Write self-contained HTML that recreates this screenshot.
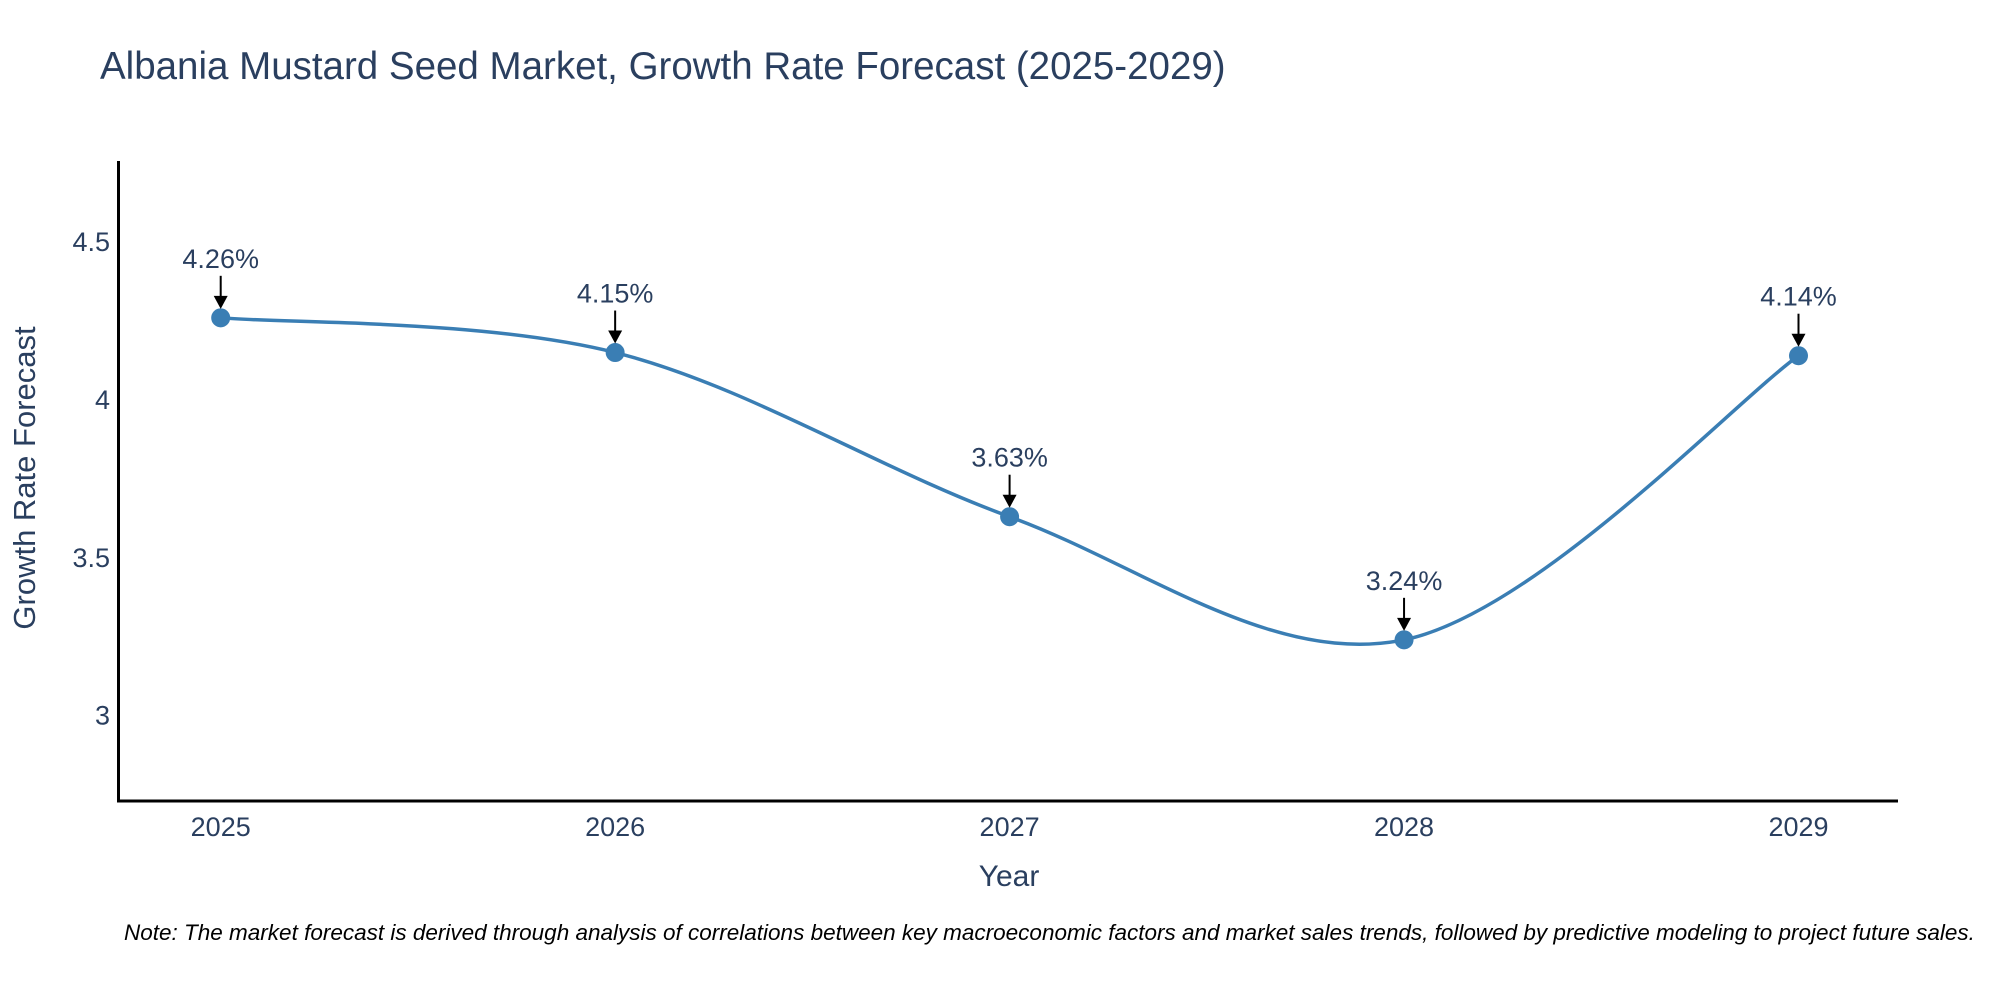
<!DOCTYPE html>
<html><head><meta charset="utf-8"><style>
body{margin:0;background:#fff;}
svg{display:block;font-family:"Liberation Sans",sans-serif;}
</style></head><body>
<svg id="chart" width="2000" height="1000">
<text x="100" y="79" font-size="38.5" fill="#2a3f5f">Albania Mustard Seed Market, Growth Rate Forecast (2025-2029)</text>
<g id="yticks"></g>
<g id="xticks"></g>
<line x1="118.5" y1="161" x2="118.5" y2="802" stroke="#000" stroke-width="3"/>
<line x1="117" y1="801" x2="1898" y2="801" stroke="#000" stroke-width="3"/>
<path id="line" fill="none" stroke="#3a7eb4" stroke-width="3.5"/>
<g id="points"></g>
<g id="annots"></g>
<text x="1009" y="886" font-size="30" fill="#2a3f5f" text-anchor="middle">Year</text>
<text transform="translate(35,478) rotate(-90)" font-size="31" fill="#2a3f5f" text-anchor="middle">Growth Rate Forecast</text>
<text x="124" y="940" font-size="22.5" font-style="italic" fill="#000">Note: The market forecast is derived through analysis of correlations between key macroeconomic factors and market sales trends, followed by predictive modeling to project future sales.</text>
</svg>
<script>
const years = [2025, 2026, 2027, 2028, 2029];
const rates = [4.26, 4.15, 3.63, 3.24, 4.14];
const yTickVals = [3, 3.5, 4, 4.5];
const yTickLabels = ["3", "3.5", "4", "4.5"];
const NS = "http://www.w3.org/2000/svg";
const x = v => 220.7 + (v - 2025) * 394.45;
const y = v => 715.6 - (v - 3) * 315.7;
function mk(tag, attrs, parent, txt){const e=document.createElementNS(NS,tag);for(const k in attrs)e.setAttribute(k,attrs[k]);if(txt!==undefined)e.textContent=txt;parent.appendChild(e);return e;}
const yt=document.getElementById('yticks');
yTickVals.forEach((v,i)=>{const t=mk('text',{x:110,y:y(v)+9,'font-size':27,fill:'#2a3f5f','text-anchor':'end'},yt,yTickLabels[i]);

});
const xt=document.getElementById('xticks');
years.forEach(v=>{const t=mk('text',{x:x(v),y:836,'font-size':27,fill:'#2a3f5f','text-anchor':'middle'},xt,String(v));

});
const P=years.map((v,i)=>[x(v),y(rates[i])]);
let d=`M${P[0][0]},${P[0][1]}`;const s=1/6;
for(let i=0;i<P.length-1;i++){const p0=P[Math.max(i-1,0)],p1=P[i],p2=P[i+1],p3=P[Math.min(i+2,P.length-1)];
const c1=[p1[0]+(p2[0]-p0[0])*s,p1[1]+(p2[1]-p0[1])*s];const c2=[p2[0]-(p3[0]-p1[0])*s,p2[1]-(p3[1]-p1[1])*s];
d+=` C${c1[0]},${c1[1]} ${c2[0]},${c2[1]} ${p2[0]},${p2[1]}`;}
document.getElementById('line').setAttribute('d',d);
const pts=document.getElementById('points'),an=document.getElementById('annots');
P.forEach((p,i)=>{const c=mk('circle',{cx:p[0],cy:p[1],r:9.5,fill:'#3a7eb4'},pts);


const g=mk('g',{},an);


mk('line',{x1:p[0],y1:p[1]-42,x2:p[0],y2:p[1]-20,stroke:'#000','stroke-width':2},g);
mk('polygon',{points:`${p[0]-7},${p[1]-22} ${p[0]+7},${p[1]-22} ${p[0]},${p[1]-9}`,fill:'#000'},g);
mk('text',{x:p[0],y:p[1]-50,'font-size':27,fill:'#2a3f5f','text-anchor':'middle'},g,rates[i].toFixed(2)+'%');});
</script>
</body></html>
